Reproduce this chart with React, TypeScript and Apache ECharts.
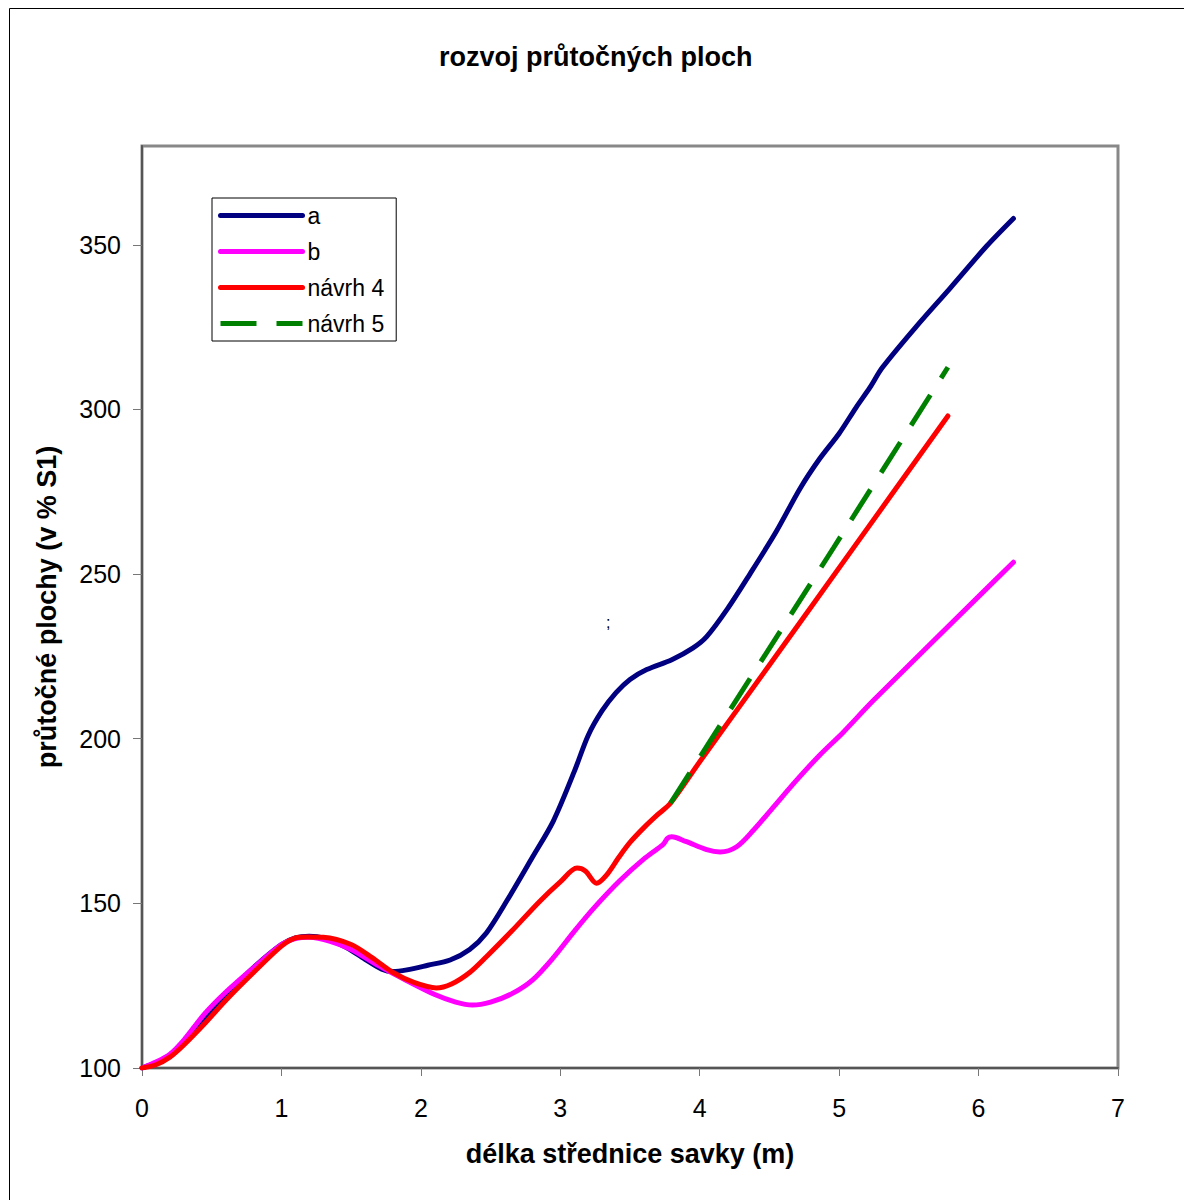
import React, { useEffect, useRef } from "react";
import * as echarts from "echarts";

const chartTitle = "rozvoj průtočných ploch";
const xAxisName = "délka střednice savky (m)";
const yAxisName = "průtočné plochy (v % S1)";
const seriesNames = ["a", "b", "návrh 4", "návrh 5"];
const yTickValues = [100, 150, 200, 250, 300, 350];

const seriesA: number[][] = [
  [0, 100], [0.1, 101.5], [0.2, 103.5], [0.3, 107.5], [0.45, 115], [0.6, 122],
  [0.8, 130.5], [1.0, 137.5], [1.1, 139.5], [1.2, 140], [1.3, 139.5], [1.45, 137],
  [1.6, 133], [1.72, 130], [1.8, 129.3], [1.9, 129.8], [2.05, 131.2], [2.21, 132.8],
  [2.35, 136], [2.47, 141], [2.62, 151], [2.8, 164], [2.95, 175],
  [3.1, 190], [3.2, 201], [3.3, 208.5], [3.4, 214], [3.5, 218],
  [3.62, 221], [3.8, 224], [3.95, 227.5], [4.05, 231], [4.2, 239.5], [4.36, 250],
  [4.55, 263], [4.72, 276], [4.86, 285], [5.0, 292.7], [5.12, 300.5], [5.22, 306.6],
  [5.31, 312.7], [5.55, 325], [5.8, 337], [6.06, 349.7], [6.25, 358],
];

const seriesB: number[][] = [
  [0, 100], [0.1, 101.8], [0.2, 104.2], [0.3, 108.5], [0.45, 116.5], [0.6, 123],
  [0.8, 130.5], [1.0, 137.5], [1.1, 139.3], [1.2, 139.7], [1.35, 138.5], [1.5, 136],
  [1.7, 131], [1.9, 126.5], [2.1, 122.3], [2.25, 120], [2.37, 119.1], [2.5, 120],
  [2.65, 122.5], [2.8, 126.7], [2.95, 133.5], [3.1, 141.5], [3.25, 149], [3.43, 157],
  [3.6, 163.5], [3.74, 168], [3.77, 169.8], [3.8, 170.2], [3.9, 168.8], [4.05, 166.3],
  [4.146, 165.6], [4.265, 167.2], [4.385, 172.2], [4.53, 179.3], [4.695, 187.4],
  [4.86, 195], [5.03, 202], [5.245, 211.6], [6.01, 243.6], [6.25, 253.6],
];

const seriesN4: number[][] = [
  [0, 100], [0.1, 101], [0.2, 103.3], [0.3, 107], [0.45, 113.5], [0.6, 120.5],
  [0.8, 129], [1.0, 137], [1.1, 139.5], [1.18, 139.8], [1.3, 139.7], [1.5, 137.5],
  [1.65, 133.5], [1.8, 129], [1.95, 126], [2.11, 124.3], [2.22, 125.5], [2.35, 129],
  [2.47, 133.8], [2.65, 141.5], [2.85, 150.5], [3.0, 156.5], [3.12, 160.7],
  [3.18, 159.8], [3.26, 156.1], [3.33, 158.5], [3.42, 164], [3.5, 168.5], [3.6, 173],
  [3.7, 177], [3.79, 180.4], [4.0, 193], [4.5, 222.4], [5.1, 257.8], [5.78, 298],
];

const seriesN5: number[][] = [
  [3.79, 180.4], [4.96, 258], [5.78, 312.8],
];

const FONT = "'Liberation Sans', Arial, sans-serif";
const COLORS = ["#000080", "#FF00FF", "#FF0000", "#008000"];

export default function App() {
  const ref = useRef<HTMLDivElement>(null);

  useEffect(() => {
    document.body.style.margin = "0";
    if (!ref.current) return;
    const chart = echarts.init(ref.current, undefined, { renderer: "svg" });
    const solid = (color: string) => ({
      color,
      width: 5,
      cap: "round" as const,
      join: "round" as const,
    });
    const hiddenSymbol = { color: "transparent", borderColor: "transparent", borderWidth: 0, opacity: 0 };
    chart.setOption({
      animation: false,
      backgroundColor: "#fff",
      textStyle: { fontFamily: FONT },
      title: {
        text: chartTitle,
        left: 434,
        top: 38,
        textStyle: { fontFamily: FONT, fontSize: 27, fontWeight: "bold", color: "#000" },
      },
      grid: {
        left: 142,
        top: 146,
        width: 976,
        height: 922,
        show: true,
        borderColor: "#888",
        borderWidth: 3,
        backgroundColor: "transparent",
      },
      legend: {
        orient: "vertical",
        left: 212,
        top: 198,
        padding: [6, 12, 6, 6],
        itemWidth: 82,
        itemHeight: 14,
        itemGap: 13,
        borderColor: "#000",
        borderWidth: 1,
        backgroundColor: "#fff",
        textStyle: { fontFamily: FONT, fontSize: 23, color: "#000" },
        itemStyle: hiddenSymbol,
        lineStyle: { width: 5, cap: "round" },
        data: [
          { name: seriesNames[0], itemStyle: hiddenSymbol, lineStyle: { width: 5, cap: "round", color: COLORS[0] } },
          { name: seriesNames[1], itemStyle: hiddenSymbol, lineStyle: { width: 5, cap: "round", color: COLORS[1] } },
          { name: seriesNames[2], itemStyle: hiddenSymbol, lineStyle: { width: 5, cap: "round", color: COLORS[2] } },
          { name: seriesNames[3], itemStyle: hiddenSymbol, lineStyle: { width: 5, cap: "butt", color: COLORS[3], type: [36, 20] } },
        ],
      },
      xAxis: {
        type: "value",
        min: 0,
        max: 7,
        interval: 1,
        name: xAxisName,
        nameLocation: "middle",
        nameGap: 72,
        nameTextStyle: { fontFamily: FONT, fontSize: 27, fontWeight: "bold", color: "#000" },
        axisLine: { show: true, lineStyle: { color: "#555", width: 2 } },
        axisTick: { show: true, inside: false, length: 8, lineStyle: { color: "#777", width: 1 } },
        axisLabel: { margin: 27, fontFamily: FONT, fontSize: 25, color: "#000" },
        splitLine: { show: false },
      },
      yAxis: {
        type: "value",
        min: 100,
        max: 380,
        interval: 50,
        name: yAxisName,
        nameLocation: "middle",
        nameGap: 82,
        nameTextStyle: { fontFamily: FONT, fontSize: 27, fontWeight: "bold", color: "#000" },
        axisLine: { show: true, lineStyle: { color: "#555", width: 2 } },
        axisTick: {
          show: true,
          inside: false,
          length: 9,
          lineStyle: { color: "#777", width: 1 },
          customValues: yTickValues,
        },
        axisLabel: {
          margin: 21,
          fontFamily: FONT,
          fontSize: 25,
          color: "#000",
          customValues: yTickValues,
        },
        splitLine: { show: false },
      },
      graphic: [
        {
          type: "rect",
          silent: true,
          shape: { x: 9.5, y: 8.5, width: 1300, height: 1300 },
          style: { fill: "none", stroke: "#000", lineWidth: 1 },
        },
        {
          type: "text",
          left: 606,
          top: 614,
          style: { text: ";", fontFamily: FONT, fontSize: 16, fill: "#000" },
        },
      ],
      series: [
        {
          name: seriesNames[0],
          type: "line",
          data: seriesA,
          smooth: 0.3,
          showSymbol: false,
          symbol: "none",
          lineStyle: solid(COLORS[0]),
          itemStyle: { color: COLORS[0] },
          z: 2,
        },
        {
          name: seriesNames[1],
          type: "line",
          data: seriesB,
          smooth: 0.3,
          showSymbol: false,
          symbol: "none",
          lineStyle: solid(COLORS[1]),
          itemStyle: { color: COLORS[1] },
          z: 3,
        },
        {
          name: seriesNames[2],
          type: "line",
          data: seriesN4,
          smooth: 0.3,
          showSymbol: false,
          symbol: "none",
          lineStyle: solid(COLORS[2]),
          itemStyle: { color: COLORS[2] },
          z: 4,
        },
        {
          name: seriesNames[3],
          type: "line",
          data: seriesN5,
          smooth: false,
          showSymbol: false,
          symbol: "none",
          lineStyle: { color: COLORS[3], width: 5, type: [36, 20], cap: "butt" },
          itemStyle: { color: COLORS[3] },
          z: 5,
        },
      ],
    });
    return () => chart.dispose();
  }, []);

  return (
    <div
      ref={ref}
      style={{ position: "absolute", left: 0, top: 0, width: 1184, height: 1200 }}
    />
  );
}
